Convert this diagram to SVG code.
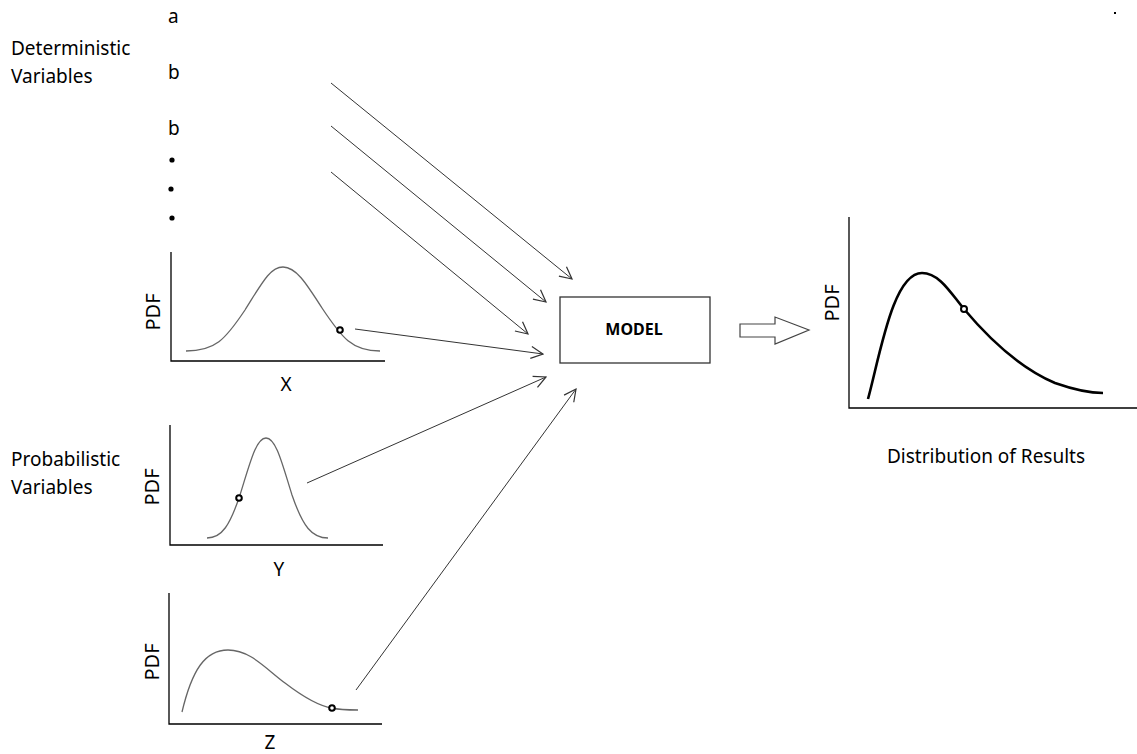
<svg xmlns="http://www.w3.org/2000/svg" width="1137" height="754" viewBox="0 0 1137 754">
<style>
.t{font-family:"Noto Sans","Open Sans",sans-serif;font-size:19px;fill:#000}
.ax{stroke:#000;stroke-width:1.3;fill:none}
.cv{stroke:#666;stroke-width:1.3;fill:none}
.pt{fill:#fff;stroke:#000;stroke-width:2}
.c{stroke:#333;stroke-width:1;fill:none;marker-end:url(#ah)}
.pdf{font-family:"Noto Sans","Open Sans",sans-serif;font-size:20px;fill:#000}
</style>
<defs>
<marker id="ah" viewBox="0 0 14 14" refX="13" refY="7" markerWidth="14" markerHeight="14" markerUnits="userSpaceOnUse" orient="auto">
<path d="M1,1 L13,7 L1,13" fill="none" stroke="#333" stroke-width="1.2"/>
</marker>
</defs>
<rect width="1137" height="754" fill="#fff"/>
<g id="labels">
<text class="t" x="11" y="55">Deterministic</text>
<text class="t" x="11" y="83">Variables</text>
<text class="t" x="11" y="466">Probabilistic</text>
<text class="t" x="11" y="494">Variables</text>
</g>
<g id="det-vars">
<text class="t" x="168" y="23">a</text>
<text class="t" x="168" y="79">b</text>
<text class="t" x="168" y="135">b</text>
<circle cx="172" cy="160" r="2.6" fill="#000"/>
<circle cx="171" cy="189" r="2.6" fill="#000"/>
<circle cx="172" cy="218" r="2.6" fill="#000"/>
</g>
<g id="chart-x">
<path class="ax" d="M171,252 V361 H385"/>
<path class="cv" d="M186,351 C215,351 225,340 245,310 C262,283 270,267 283,267 C296,267 306,283 322,308 C342,338 352,351 380,351"/>
<circle class="pt" cx="340" cy="330" r="2.8"/>
<text class="pdf" transform="translate(160,312) rotate(-90)" text-anchor="middle">PDF</text>
<text class="t" x="286" y="391" text-anchor="middle">X</text>
</g>
<g id="chart-y">
<path class="ax" d="M170,425 V545 H383"/>
<path class="cv" d="M207,538 C222,538 230,525 240,495 C250,463 256,438 266,438 C276,438 282,463 292,495 C303,527 312,538 328,538"/>
<circle class="pt" cx="239" cy="498" r="2.8"/>
<text class="pdf" transform="translate(159,487) rotate(-90)" text-anchor="middle">PDF</text>
<text class="t" x="279" y="576" text-anchor="middle">Y</text>
</g>
<g id="chart-z">
<path class="ax" d="M169,593 V724 H382"/>
<path class="cv" d="M182,712 C192,670 205,650 228,650 C250,650 265,668 285,683 C302,696 318,706 332,708 C340,710 350,710 358,710"/>
<circle class="pt" cx="332" cy="708" r="2.8"/>
<text class="pdf" transform="translate(159,662) rotate(-90)" text-anchor="middle">PDF</text>
<text class="t" x="270" y="749" text-anchor="middle">Z</text>
</g>
<g id="model">
<rect x="560" y="297" width="150" height="66" fill="#fff" stroke="#333" stroke-width="1.3"/>
<text x="634" y="335" text-anchor="middle" font-family="Noto Sans, Open Sans, sans-serif" font-size="16" font-weight="bold">MODEL</text>
</g>
<g id="block-arrow">
<path d="M740,324 H775 V317 L809,330 L775,344 V337 H740 Z" fill="#fff" stroke="#444" stroke-width="1.2"/>
</g>
<g id="result">
<path class="ax" d="M849,217 V408 H1137"/>
<path d="M868,399 C880,355 893,273 922,273 C940,273 952,295 964,309 C990,340 1020,368 1055,383 C1075,390 1090,393 1103,393" fill="none" stroke="#000" stroke-width="2.6"/>
<circle class="pt" cx="964" cy="309" r="3"/>
<text class="pdf" transform="translate(839,303) rotate(-90)" text-anchor="middle">PDF</text>
<text class="t" x="887" y="463">Distribution of Results</text>
</g>
<g id="connectors">
<line class="c" x1="331" y1="83" x2="572" y2="279"/>
<line class="c" x1="331" y1="126" x2="546" y2="302"/>
<line class="c" x1="331" y1="172" x2="528" y2="334"/>
<line class="c" x1="355" y1="329" x2="543" y2="354"/>
<line class="c" x1="307" y1="483" x2="546" y2="377"/>
<line class="c" x1="356" y1="690" x2="576" y2="389"/>
</g>
<rect x="1114" y="12" width="2" height="2" fill="#000"/>
</svg>
